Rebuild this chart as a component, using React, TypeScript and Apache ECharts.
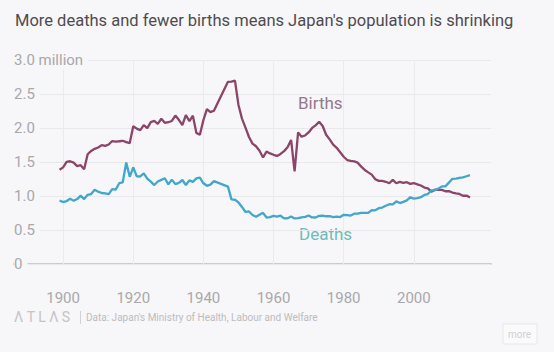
import React, { useEffect, useRef } from "react";
import * as echarts from "echarts";

const titleText = "More deaths and fewer births means Japan's population is shrinking";
const sourceText = "Data: Japan's Ministry of Health, Labour and Welfare";

function range(a: number, b: number): number[] {
  const out: number[] = [];
  for (let y = a; y <= b; y++) out.push(y);
  return out;
}
// 1944–1946 are missing in the source, the line joins 1943 to 1947
const years: number[] = [...range(1899, 1943), ...range(1947, 2016)];

// millions
const births: number[] = [
  1.387, 1.421, 1.502, 1.511, 1.49, 1.44, 1.453, 1.394, 1.614, 1.663,
  1.694, 1.713, 1.748, 1.738, 1.757, 1.808, 1.799, 1.805, 1.812, 1.792,
  1.779, 2.026, 1.991, 1.969, 2.043, 1.999, 2.086, 2.104, 2.061, 2.136,
  2.077, 2.085, 2.103, 2.183, 2.121, 2.044, 2.191, 2.102, 2.181, 1.928,
  1.902, 2.116, 2.277, 2.234, 2.254,
  2.679, 2.682, 2.697, 2.338, 2.138, 2.005, 1.868, 1.77, 1.731, 1.665,
  1.567, 1.653, 1.626, 1.606, 1.589, 1.619, 1.66, 1.717, 1.824, 1.361,
  1.936, 1.872, 1.89, 1.934, 2.001, 2.039, 2.092, 2.03, 1.901, 1.833,
  1.755, 1.709, 1.643, 1.577, 1.529, 1.515, 1.509, 1.49, 1.432, 1.383,
  1.347, 1.314, 1.247, 1.222, 1.223, 1.209, 1.188, 1.238, 1.187, 1.207,
  1.192, 1.203, 1.178, 1.191, 1.171, 1.154, 1.124, 1.111, 1.063, 1.093,
  1.09, 1.091, 1.07, 1.071, 1.051, 1.037, 1.03, 1.004, 1.006, 0.977,
];

const deaths: number[] = [
  0.932, 0.911, 0.926, 0.959, 0.931, 0.955, 1.005, 0.955, 1.017, 1.029,
  1.091, 1.064, 1.044, 1.037, 1.027, 1.102, 1.094, 1.188, 1.2, 1.493,
  1.282, 1.422, 1.289, 1.287, 1.332, 1.255, 1.211, 1.161, 1.214, 1.237,
  1.261, 1.171, 1.241, 1.175, 1.194, 1.235, 1.162, 1.23, 1.208, 1.26,
  1.269, 1.187, 1.15, 1.167, 1.219,
  1.138, 0.951, 0.945, 0.905, 0.839, 0.765, 0.773, 0.721, 0.694, 0.724,
  0.752, 0.684, 0.69, 0.707, 0.696, 0.71, 0.671, 0.673, 0.7, 0.67,
  0.675, 0.687, 0.694, 0.713, 0.685, 0.684, 0.709, 0.711, 0.702, 0.703,
  0.69, 0.696, 0.69, 0.723, 0.72, 0.712, 0.74, 0.74, 0.752, 0.751,
  0.751, 0.793, 0.789, 0.82, 0.83, 0.857, 0.879, 0.876, 0.922, 0.896,
  0.913, 0.936, 0.982, 0.962, 0.97, 0.982, 1.015, 1.029, 1.084, 1.084,
  1.108, 1.142, 1.142, 1.197, 1.253, 1.256, 1.268, 1.273, 1.29, 1.308,
];

const xTickYears: number[] = [1900, 1920, 1940, 1960, 1980, 2000];
const yTicks: number[] = [0, 0.5, 1, 1.5, 2, 2.5, 3];

const BG = "#f7f6f8";
const FONT = "Roboto, 'Noto Sans', sans-serif";

export default function App() {
  const ref = useRef<HTMLDivElement>(null);
  useEffect(() => {
    if (!ref.current) return;
    const chart = echarts.init(ref.current, undefined, { renderer: "svg" });
    const birthData = years.map((y, i) => [y, births[i]]);
    const deathData = years.map((y, i) => [y, deaths[i]]);
    chart.setOption({
      animation: false,
      backgroundColor: BG,
      textStyle: { fontFamily: FONT },
      grid: { left: 14, right: 63, top: 60, bottom: 88, containLabel: false },
      xAxis: {
        type: "value",
        min: 1886,
        max: 2022,
        minInterval: 20,
        maxInterval: 20,
        axisLine: { show: true, lineStyle: { color: "#cbcacd", width: 2 } },
        axisTick: { show: false },
        splitLine: { show: false },
        axisLabel: {
          margin: 26,
          fontSize: 15,
          color: "#a9a8ab",
          fontFamily: FONT,
          formatter: (v: number) => (xTickYears.indexOf(v) >= 0 ? String(v) : ""),
        },
      },
      yAxis: {
        type: "value",
        min: 0,
        max: 3,
        interval: 0.5,
        axisLine: { show: false },
        axisTick: { show: false },
        splitLine: { show: true, lineStyle: { color: "#e9e8eb", width: 1 } },
        axisLabel: {
          inside: false,
          align: "left",
          margin: 0,
          fontSize: 15,
          color: "#a9a8ab",
          fontFamily: FONT,
          backgroundColor: BG,
          padding: [2, 5, 2, 0],
          formatter: (v: number) => {
            if (yTicks.indexOf(v) < 0) return "";
            if (v === 0) return "0";
            if (v === 3) return "3.0 million";
            return v.toFixed(1);
          },
        },
        z: 3,
      },
      series: [
        {
          name: "Births",
          type: "line",
          data: birthData,
          showSymbol: false,
          symbol: "none",
          lineStyle: { color: "#8a4569", width: 2.3 },
          itemStyle: { color: "#8a4569" },
          z: 4,
          markLine: {
            silent: true,
            symbol: "none",
            label: { show: false },
            lineStyle: { color: "#ebeaed", width: 1, type: "solid" },
            data: xTickYears.map((y) => ({ xAxis: y })),
            z: 1,
          },
        },
        {
          name: "Deaths",
          type: "line",
          data: deathData,
          showSymbol: false,
          symbol: "none",
          lineStyle: { color: "#42a7c9", width: 2.3 },
          itemStyle: { color: "#42a7c9" },
          z: 4,
        },
      ],
      graphic: [
        {
          type: "text",
          left: 15,
          top: 12,
          style: { text: titleText, fontSize: 16.5, fill: "#4d4c4f", fontFamily: FONT },
        },
        {
          type: "text",
          left: 298,
          top: 94,
          style: { text: "Births", fontSize: 17, fill: "#94788c", fontFamily: FONT },
        },
        {
          type: "text",
          left: 299,
          top: 225,
          style: { text: "Deaths", fontSize: 17, fill: "#6cbcbc", fontFamily: FONT },
        },
        {
          type: "text",
          left: 14,
          top: 310,
          style: { text: "Λ T L Λ S", fontSize: 14, fill: "#c4c3c6", fontFamily: FONT },
        },
        {
          type: "rect",
          shape: { x: 80, y: 311, width: 1, height: 13 },
          style: { fill: "#d2d1d4" },
        },
        {
          type: "text",
          left: 86,
          top: 312,
          style: { text: sourceText, fontSize: 10, fill: "#bdbcbf", fontFamily: FONT },
        },
        {
          type: "rect",
          shape: { x: 503, y: 324, width: 34, height: 20 },
          style: { fill: "#fafafb", stroke: "#e8e7ea", lineWidth: 1 },
        },
        {
          type: "text",
          left: 508,
          top: 329,
          style: { text: "more", fontSize: 10, fill: "#d0cfd2", fontFamily: FONT },
        },
      ],
    });
    return () => chart.dispose();
  }, []);
  return (
    <div
      ref={ref}
      style={{ position: "fixed", left: 0, top: 0, width: 554, height: 352 }}
    />
  );
}
